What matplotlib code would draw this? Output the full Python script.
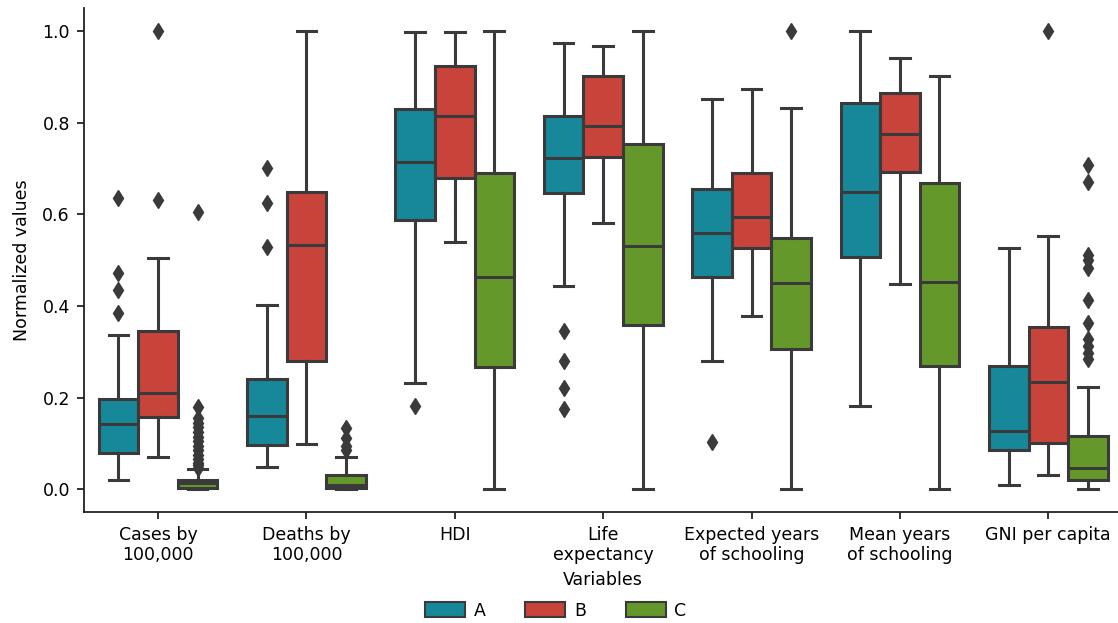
import matplotlib
matplotlib.use('agg')
import matplotlib.pyplot as plt
from matplotlib.patches import Patch

variables = ['Cases by\n100,000', 'Deaths by\n100,000', 'HDI', 'Life\nexpectancy',
             'Expected years\nof schooling', 'Mean years\nof schooling', 'GNI per capita']
groups = ['A', 'B', 'C']
colors = ['#17879a', '#c8433a', '#64982a']

# box summaries per group: one entry per variable
whislo = {
    'A': [0.020, 0.049, 0.231, 0.443, 0.280, 0.182, 0.009],
    'B': [0.070, 0.098, 0.539, 0.580, 0.377, 0.447, 0.030],
    'C': [0.000, 0.000, 0.000, 0.000, 0.000, 0.000, 0.000],
}
q1 = {
    'A': [0.079, 0.097, 0.587, 0.646, 0.464, 0.507, 0.085],
    'B': [0.157, 0.279, 0.680, 0.726, 0.526, 0.692, 0.101],
    'C': [0.003, 0.002, 0.266, 0.358, 0.306, 0.269, 0.019],
}
med = {
    'A': [0.143, 0.159, 0.715, 0.722, 0.560, 0.648, 0.128],
    'B': [0.210, 0.534, 0.815, 0.792, 0.595, 0.775, 0.235],
    'C': [0.013, 0.010, 0.464, 0.530, 0.451, 0.453, 0.047],
}
q3 = {
    'A': [0.196, 0.241, 0.830, 0.814, 0.655, 0.843, 0.268],
    'B': [0.346, 0.648, 0.924, 0.902, 0.691, 0.864, 0.354],
    'C': [0.021, 0.032, 0.691, 0.754, 0.548, 0.669, 0.117],
}
whishi = {
    'A': [0.336, 0.402, 0.997, 0.974, 0.851, 1.000, 0.527],
    'B': [0.504, 1.000, 0.997, 0.967, 0.873, 0.941, 0.552],
    'C': [0.044, 0.071, 1.000, 1.000, 0.832, 0.901, 0.224],
}
outliers = {
    'A': [[0.636, 0.472, 0.434, 0.385],
          [0.702, 0.624, 0.529],
          [0.181],
          [0.346, 0.280, 0.220, 0.174],
          [0.104],
          [],
          []],
    'B': [[1.000, 0.631],
          [],
          [],
          [],
          [],
          [],
          [1.000]],
    'C': [[0.606, 0.180, 0.155, 0.145, 0.135, 0.125, 0.115, 0.105, 0.095,
           0.085, 0.075, 0.065, 0.058, 0.052, 0.047],
          [0.134, 0.112, 0.095, 0.085],
          [],
          [],
          [1.000],
          [],
          [0.707, 0.670, 0.512, 0.501, 0.483, 0.414, 0.363, 0.327, 0.312,
           0.298, 0.285]],
}

line_color = '#3a3a3a'
plt.rcParams['font.family'] = 'DejaVu Sans'
plt.rcParams['font.size'] = 12.5

fig = plt.figure(figsize=(11.18, 6.23), dpi=100)
ax = fig.add_axes([0.075, 0.178, 0.929, 0.809])

n = len(groups)
box_w = 0.8 / n
for j, g in enumerate(groups):
    stats = []
    for i in range(len(variables)):
        stats.append(dict(whislo=whislo[g][i], q1=q1[g][i], med=med[g][i],
                          q3=q3[g][i], whishi=whishi[g][i], fliers=outliers[g][i]))
    pos = [i + (j - (n - 1) / 2) * box_w for i in range(len(variables))]
    ax.bxp(stats, positions=pos, widths=box_w, patch_artist=True, manage_ticks=False,
           boxprops=dict(facecolor=colors[j], edgecolor=line_color, linewidth=2.2),
           medianprops=dict(color=line_color, linewidth=2.2),
           whiskerprops=dict(color=line_color, linewidth=2.2),
           capprops=dict(color=line_color, linewidth=2.2),
           flierprops=dict(marker='d', markerfacecolor=line_color,
                           markeredgecolor=line_color, markersize=8))

ax.set_xlim(-0.5, len(variables) - 0.5)
ax.set_ylim(-0.05, 1.05)
ax.set_xticks(range(len(variables)))
ax.set_xticklabels(variables, linespacing=1.15)
ax.set_yticks([0.0, 0.2, 0.4, 0.6, 0.8, 1.0])
ax.set_xlabel('Variables', labelpad=5)
ax.set_ylabel('Normalized values', labelpad=8)
ax.spines['top'].set_visible(False)
ax.spines['right'].set_visible(False)
for s in ['left', 'bottom']:
    ax.spines[s].set_linewidth(1.3)
    ax.spines[s].set_color('#222222')
ax.tick_params(width=1.3, length=5, color='#222222', pad=5)

handles = [Patch(facecolor=c, edgecolor=line_color, linewidth=1.5) for c in colors]
fig.legend(handles, groups, loc='center', bbox_to_anchor=(0.497, 0.02), ncol=3,
           frameon=False, handlelength=2.3, handleheight=0.9, handletextpad=0.5,
           columnspacing=2.3)

fig.savefig('out.png', dpi=100)
